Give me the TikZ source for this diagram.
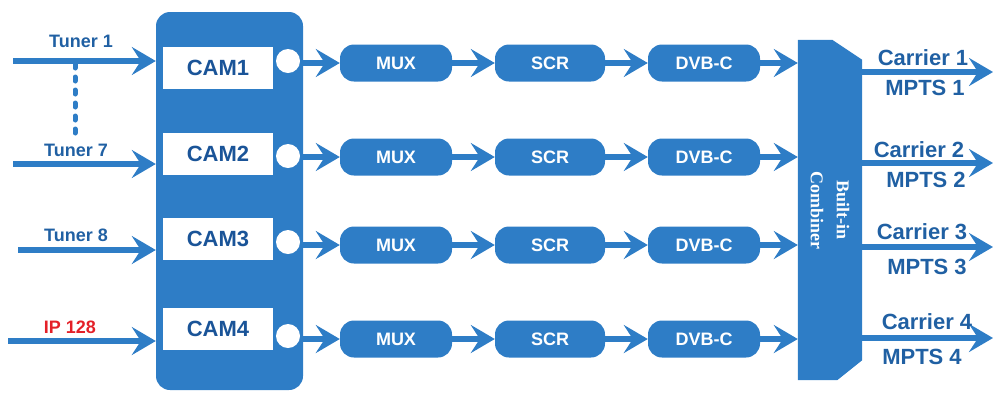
\documentclass[tikz,border=0pt]{standalone}
\usepackage{fontspec}
\setmainfont{Liberation Sans}
\newfontfamily\combfont{Liberation Serif}
\usetikzlibrary{positioning}
\usetikzlibrary{arrows.meta}

\definecolor{boxblue}{RGB}{46,125,198}
\definecolor{textblue}{RGB}{32,96,163}
\definecolor{camtext}{RGB}{26,84,152}
\definecolor{ipred}{RGB}{228,32,40}

\tikzset{
 blk/.style={fill=boxblue,rounded corners=14pt,minimum width=112pt,minimum height=37pt,inner sep=0pt,text=white,font=\bfseries\fontsize{18}{18}\selectfont},
 cam/.style={fill=white,minimum width=110pt,minimum height=42pt,inner sep=0pt,text=camtext,font=\bfseries\fontsize{22}{22}\selectfont},
 port/.style={circle,fill=white,minimum size=24pt,inner sep=0pt},
 flow/.style={boxblue,line width=6pt,-{Stealth[length=24pt,width=28pt,inset=9pt]}},
 lbl/.style={text=textblue,font=\bfseries\fontsize{18}{18}\selectfont,inner sep=0pt},
 outlbl/.style={text=textblue,font=\bfseries\fontsize{22}{22}\selectfont,inner sep=0pt}
}

\begin{document}
\begin{tikzpicture}[x=1pt,y=-1pt]
 \useasboundingbox (0,0) rectangle (995,392);
 % CAM block
 \node[fill=boxblue,rounded corners=14pt,minimum width=147pt,minimum height=378pt] (cambox) at (229.5,201) {};
 \node[cam] (cam1) at (218,68) {CAM1};
 \node[cam] (cam2) at (218,154) {CAM2};
 \node[cam] (cam3) at (218,239) {CAM3};
 \node[cam] (cam4) at (218,329) {CAM4};
 \node[port] (port1) at (288,61) {};
 \node[port] (port2) at (288,156) {};
 \node[port] (port3) at (288,242) {};
 \node[port] (port4) at (288,336) {};

 % inputs
 \coordinate (t1) at (13,61);
 \coordinate (t7) at (13,164);
 \coordinate (t8) at (18,250);
 \coordinate (ip) at (8,341);
 \draw[flow] (t1) -- (t1 -| cambox.west);
 \draw[flow] (t7) -- (t7 -| cambox.west);
 \draw[flow] (t8) -- (t8 -| cambox.west);
 \draw[flow] (ip) -- (ip -| cambox.west);
 \node[lbl] (tuner1) at (81,41) {Tuner 1};
 \node[lbl] (tuner7) at (76,150) {Tuner 7};
 \node[lbl] (tuner8) at (76,235) {Tuner 8};
 \node[lbl,text=ipred] (ip128) at (70,327) {IP 128};
 \coordinate (dot1) at (75,64);
 \coordinate (dot7) at (75,141);
 \draw[boxblue,line width=5pt,line cap=round,dash pattern=on 4pt off 9pt] (dot1) -- (dot7);

 % processing chain
 \node[blk] (mux1) at (396,63) {MUX};
 \node[blk] (mux2) at (396,157) {MUX};
 \node[blk] (mux3) at (396,245) {MUX};
 \node[blk] (mux4) at (396,339) {MUX};
 \node[blk,minimum width=110pt] (scr1) at (550,63) {SCR};
 \node[blk,minimum width=110pt] (scr2) at (550,157) {SCR};
 \node[blk,minimum width=110pt] (scr3) at (550,245) {SCR};
 \node[blk,minimum width=110pt] (scr4) at (550,339) {SCR};
 \node[blk] (dvbc1) at (704,63) {DVB-C};
 \node[blk] (dvbc2) at (704,157) {DVB-C};
 \node[blk] (dvbc3) at (704,245) {DVB-C};
 \node[blk] (dvbc4) at (704,339) {DVB-C};

 \draw[flow] (port1.east |- mux1.west) -- (mux1.west);
 \draw[flow] (port2.east |- mux2.west) -- (mux2.west);
 \draw[flow] (port3.east |- mux3.west) -- (mux3.west);
 \draw[flow] (port4.east |- mux4.west) -- (mux4.west);
 \draw[flow] (mux1) -- (scr1);
 \draw[flow] (mux2) -- (scr2);
 \draw[flow] (mux3) -- (scr3);
 \draw[flow] (mux4) -- (scr4);
 \draw[flow] (scr1) -- (dvbc1);
 \draw[flow] (scr2) -- (dvbc2);
 \draw[flow] (scr3) -- (dvbc3);
 \draw[flow] (scr4) -- (dvbc4);

 % combiner
 \path node[minimum width=64pt,minimum height=340pt,inner sep=0pt] (comb) at (830,210) {};
 \fill[boxblue] (comb.north west) -- ([xshift=-30pt]comb.north east) -- ([yshift=-20pt]comb.north east)
   -- ([yshift=20pt]comb.south east) -- ([xshift=-25pt]comb.south east) -- (comb.south west) -- cycle;
 \node[rotate=-90,align=center,text=white,font=\combfont\bfseries\fontsize{18}{26}\selectfont] (combtxt) at (comb.center) {Built-in\\Combiner};
 \draw[flow] (dvbc1) -- (dvbc1 -| comb.west);
 \draw[flow] (dvbc2) -- (dvbc2 -| comb.west);
 \draw[flow] (dvbc3) -- (dvbc3 -| comb.west);
 \draw[flow] (dvbc4) -- (dvbc4 -| comb.west);

 % outputs
 \coordinate (out1) at (993,72);
 \coordinate (out2) at (993,163);
 \coordinate (out3) at (993,247);
 \coordinate (out4) at (993,338);
 \draw[flow] (out1 -| comb.east) -- (out1);
 \draw[flow] (out2 -| comb.east) -- (out2);
 \draw[flow] (out3 -| comb.east) -- (out3);
 \draw[flow] (out4 -| comb.east) -- (out4);
 \node[outlbl] (carrier1) at (923,58) {Carrier 1};
 \node[outlbl] (mpts1) at (925,88) {MPTS 1};
 \node[outlbl] (carrier2) at (919,150) {Carrier 2};
 \node[outlbl] (mpts2) at (926,180) {MPTS 2};
 \node[outlbl] (carrier3) at (922,232) {Carrier 3};
 \node[outlbl] (mpts3) at (927,267) {MPTS 3};
 \node[outlbl] (carrier4) at (927,322) {Carrier 4};
 \node[outlbl] (mpts4) at (922,357) {MPTS 4};
\end{tikzpicture}
\end{document}
